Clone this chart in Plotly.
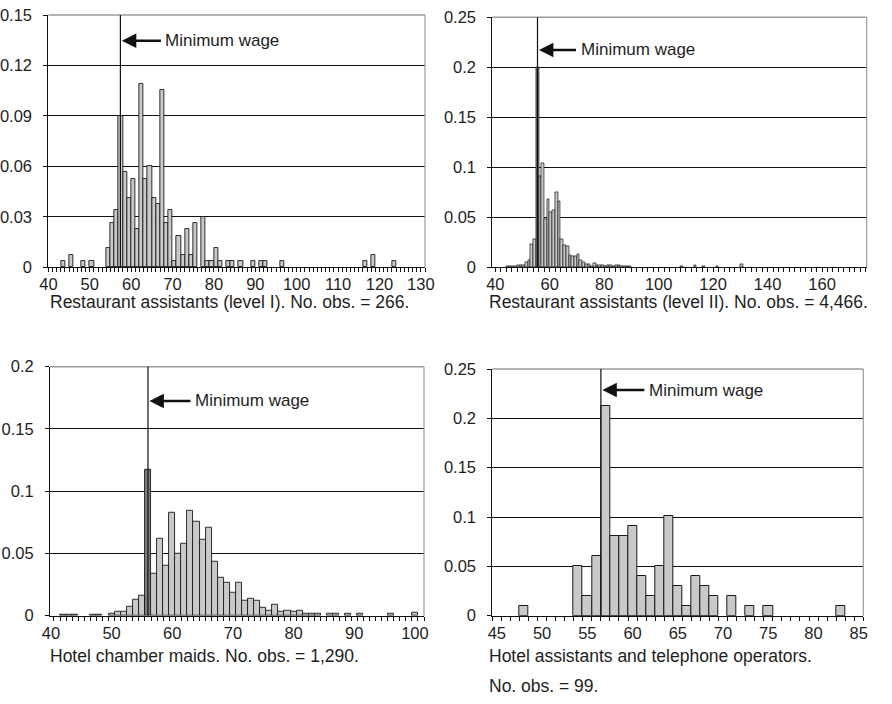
import plotly.graph_objects as go

# ---------------- data ----------------
# Panel 1: Restaurant assistants (level I), counts per 1-unit wage bin (N = 266)
p1_bins = [43, 45, 48, 50, 54, 55, 56, 57, 58, 59, 60, 61, 62, 63, 64, 65, 66, 67, 68, 69,
           70, 71, 72, 73, 74, 75, 77, 78, 79, 80, 81, 83, 84, 86, 89, 91, 92, 96, 116, 118, 123]
p1_counts = [1, 2, 1, 1, 3, 7, 9, 24, 15, 11, 14, 6, 29, 14, 16, 11, 10, 28, 7, 9,
             1, 5, 2, 6, 2, 7, 8, 1, 1, 3, 1, 1, 1, 1, 1, 1, 1, 1, 1, 2, 1]
p1_n = 266

# Panel 2: Restaurant assistants (level II), shares (N = 4,466)
p2_bins = [44, 45, 46, 47, 48, 49, 50, 51, 52, 53, 54, 55, 56, 57, 58, 59, 60, 61, 62, 63,
           64, 65, 66, 67, 68, 69, 70, 71, 72, 73, 74, 75, 76, 77, 78, 79, 80, 81, 82, 83,
           84, 85, 86, 87, 88, 89, 108, 113, 116, 121, 130]
p2_share = [0.0013, 0.0015, 0.0015, 0.0015, 0.0017, 0.0017, 0.0023, 0.0047, 0.0073, 0.023,
            0.028, 0.200, 0.091, 0.104, 0.048, 0.068, 0.055, 0.057, 0.075, 0.066,
            0.028, 0.022, 0.021, 0.012, 0.011, 0.011, 0.013, 0.007, 0.005, 0.003,
            0.003, 0.0015, 0.004, 0.002, 0.002, 0.002, 0.0007, 0.002, 0.002, 0.0007,
            0.002, 0.002, 0.0015, 0.0007, 0.0007, 0.0015, 0.0015, 0.0025, 0.0015, 0.0015, 0.003]

# Panel 3: Hotel chamber maids, shares (N = 1,290)
p3_bins = [42, 43, 44, 47, 48, 50, 51, 52, 53, 54, 55, 56, 57, 58, 59, 60, 61, 62, 63, 64,
           65, 66, 67, 68, 69, 70, 71, 72, 73, 74, 75, 76, 77, 78, 79, 80, 81, 82, 83, 84,
           86, 87, 89, 91, 96, 100]
p3_share = [0.0008, 0.0008, 0.0008, 0.0008, 0.0008, 0.0015, 0.0035, 0.0035, 0.007, 0.0131,
            0.0158, 0.1174, 0.034, 0.062, 0.0404, 0.0829, 0.050, 0.0578, 0.084, 0.0754,
            0.0612, 0.0709, 0.0433, 0.0307, 0.0265, 0.0187, 0.0265, 0.0123, 0.0134, 0.0123,
            0.0067, 0.0037, 0.0091, 0.0032, 0.0037, 0.0032, 0.0037, 0.0016, 0.0016, 0.0016,
            0.0016, 0.0016, 0.0016, 0.0016, 0.0016, 0.0027]

# Panel 4: Hotel assistants and telephone operators, counts (N = 99)
p4_bins = [48, 54, 55, 56, 57, 58, 59, 60, 61, 62, 63, 64, 65, 66, 67, 68, 69, 71, 73, 75, 83]
p4_counts = [1, 5, 2, 6, 21, 8, 8, 9, 4, 2, 5, 10, 3, 1, 4, 3, 2, 2, 1, 1, 1]
p4_n = 99

min_wage = [57.4, 55.5, 56, 56.5]
highlight_bin = [None, 55, 56, None]

captions = [
    ["Restaurant assistants (level I). No. obs. = 266."],
    ["Restaurant assistants (level II). No. obs. = 4,466."],
    ["Hotel chamber maids. No. obs. = 1,290."],
    ["Hotel assistants and telephone operators.", "No. obs. = 99."],
]

x_ticks = [[40, 50, 60, 70, 80, 90, 100, 110, 120, 130],
           [40, 60, 80, 100, 120, 140, 160],
           [40, 50, 60, 70, 80, 90, 100],
           [45, 50, 55, 60, 65, 70, 75, 80, 85]]
y_ticks = [[0, 0.03, 0.06, 0.09, 0.12, 0.15],
           [0, 0.05, 0.1, 0.15, 0.2, 0.25],
           [0, 0.05, 0.1, 0.15, 0.2],
           [0, 0.05, 0.1, 0.15, 0.2, 0.25]]
y_ticktext = [["0", "0.03", "0.06", "0.09", "0.12", "0.15"],
              ["0", "0.05", "0.1", "0.15", "0.2", "0.25"],
              ["0", "0.05", "0.1", "0.15", "0.2"],
              ["0", "0.05", "0.1", "0.15", "0.2", "0.25"]]

# ---------------- layout geometry ----------------
W, H = 892, 704
FONT = "Liberation Sans, Arial, sans-serif"
TXT = "#1e1e1e"

def px_dom_x(a, b):
    return [a / W, b / W]

def px_dom_y(top, bottom):
    return [(H - bottom) / H, (H - top) / H]

panels = [
    dict(bins=p1_bins, vals=[c / p1_n for c in p1_counts],
         xdom=px_dom_x(48.3, 425), ydom=px_dom_y(15, 267.3),
         xr=[39.98, 131], yr=[0, 0.15], offset=0, tick0=0, dtick=1, lw=0.9,
         arrow=(0.1347, 102), cap=(48, [302])),
    dict(bins=p2_bins, vals=p2_share,
         xdom=px_dom_x(492.3, 866.7), ydom=px_dom_y(17.3, 267.3),
         xr=[38.9, 176.4], yr=[0, 0.25], offset=0, tick0=0, dtick=2, lw=0.7,
         arrow=(0.2173, 100), cap=(487, [302])),
    dict(bins=p3_bins, vals=p3_share,
         xdom=px_dom_x(50, 424), ydom=px_dom_y(366.7, 615.7),
         xr=[39.85, 101.5], yr=[0, 0.2], offset=-0.5, tick0=0.5, dtick=1, lw=0.9,
         arrow=(0.1725, 104), cap=(48, [656])),
    dict(bins=p4_bins, vals=[c / p4_n for c in p4_counts],
         xdom=px_dom_x(492.3, 863.3), ydom=px_dom_y(369, 615.7),
         xr=[44.5, 85.5], yr=[0, 0.25], offset=-0.5, tick0=0.5, dtick=1, lw=1.0,
         arrow=(0.2287, 105), cap=(487, [656, 686])),
]

fig = go.Figure()
layout = dict(
    width=W, height=H, margin=dict(l=0, r=0, t=0, b=0, autoexpand=False),
    paper_bgcolor="white", plot_bgcolor="white",
    showlegend=False, bargap=0,
    font=dict(family=FONT, size=16.5, color=TXT),
)
shapes = []
annotations = []

for i, p in enumerate(panels):
    k = i + 1
    xa = "x" if k == 1 else f"x{k}"
    ya = "y" if k == 1 else f"y{k}"
    colors = ["#7d7d7d" if b == highlight_bin[i] else "#c9c9c9" for b in p["bins"]]
    fig.add_trace(go.Bar(
        x=p["bins"], y=p["vals"], width=1, offset=p["offset"],
        marker=dict(color=colors, line=dict(color="#1a1a1a", width=p["lw"])),
        xaxis=xa, yaxis=ya, hoverinfo="x+y",
    ))
    layout["xaxis" if k == 1 else f"xaxis{k}"] = dict(
        domain=p["xdom"], anchor=ya, range=p["xr"], automargin=False,
        tickmode="array", tickvals=x_ticks[i], ticks="",
        showgrid=False, zeroline=False,
        showline=True, linecolor="#111", linewidth=1,
        tickfont=dict(size=16.5, color=TXT), ticklabelstandoff=2,
        minor=dict(ticks="outside", tickmode="linear", tick0=p["tick0"], dtick=p["dtick"],
                   ticklen=4, tickcolor="#111", tickwidth=1, showgrid=False),
    )
    layout["yaxis" if k == 1 else f"yaxis{k}"] = dict(
        domain=p["ydom"], anchor=xa, range=p["yr"], automargin=False,
        tickmode="array", tickvals=y_ticks[i], ticktext=y_ticktext[i],
        ticks="outside", ticklen=4, tickcolor="#111",
        showgrid=True, gridcolor="#111", gridwidth=1.3,
        zeroline=False, showline=True, linecolor="#111", linewidth=1,
        tickfont=dict(size=16.5, color=TXT), ticklabelstandoff=8,
    )
    # gray plot-area border (top and right)
    shapes.append(dict(type="line", xref=f"{xa} domain", yref=f"{ya} domain",
                       x0=0, x1=1, y0=1, y1=1, line=dict(color="#9a9a9a", width=1.6),
                       layer="above"))
    shapes.append(dict(type="line", xref=f"{xa} domain", yref=f"{ya} domain",
                       x0=1, x1=1, y0=0, y1=1, line=dict(color="#9a9a9a", width=1.2),
                       layer="above"))
    # minimum wage line
    shapes.append(dict(type="line", xref=xa, yref=f"{ya} domain",
                       x0=min_wage[i], x1=min_wage[i], y0=0, y1=1,
                       line=dict(color="#111", width=1.2), layer="above"))
    ay_val, ax_px = p["arrow"]
    annotations.append(dict(
        xref=xa, yref=ya, x=min_wage[i], y=ay_val,
        text="Minimum wage", showarrow=True, arrowhead=2, arrowsize=1.2,
        arrowwidth=2.4, arrowcolor="#111", ax=ax_px, ay=0, standoff=1.5,
        borderpad=4, font=dict(size=17, color=TXT),
    ))
    cx, cys = p["cap"]
    for line_text, cy in zip(captions[i], cys):
        annotations.append(dict(
            xref="paper", yref="paper", x=cx / W, y=(H - cy) / H,
            xanchor="left", yanchor="middle", align="left",
            text=line_text, showarrow=False,
            font=dict(size=17.5, color=TXT),
        ))

layout["shapes"] = shapes
layout["annotations"] = annotations
fig.update_layout(**layout)
fig.write_html(
    "out.html",
    config={"displayModeBar": False},
    post_script="document.body.style.margin='0';document.body.style.padding='0';",
)
